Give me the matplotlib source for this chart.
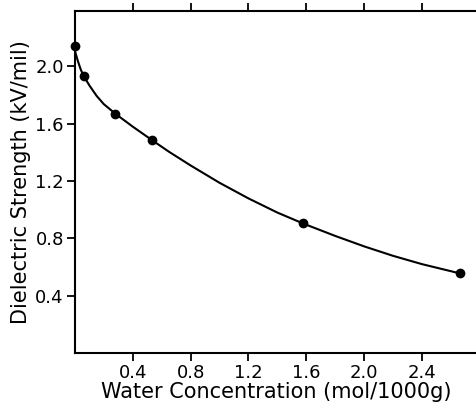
import matplotlib.pyplot as plt

# measured points
water = [0.0, 0.06, 0.28, 0.533, 1.58, 2.66]
strength = [2.145, 1.935, 1.67, 1.486, 0.905, 0.56]

# smooth curve
curve_x = [0.0, 0.02, 0.04, 0.06, 0.1, 0.15, 0.2, 0.28, 0.4, 0.533, 0.65,
           0.8, 1.0, 1.2, 1.4, 1.58, 1.8, 2.0, 2.2, 2.4, 2.66]
curve_y = [2.11, 2.04, 1.98, 1.935, 1.868, 1.795, 1.737, 1.67, 1.58, 1.486,
           1.405, 1.309, 1.188, 1.079, 0.98, 0.903, 0.817, 0.744, 0.678,
           0.62, 0.556]

xticks = [0.4, 0.8, 1.2, 1.6, 2.0, 2.4]
yticks = [0.4, 0.8, 1.2, 1.6, 2.0]

fig = plt.figure(figsize=(4.77, 4.09), dpi=100)
ax = fig.add_axes([0.157, 0.137, 0.843, 0.836])

ax.plot(curve_x, curve_y, color="black", lw=1.5)
ax.plot(water, strength, "o", color="black", ms=6, clip_on=False)

ax.set_xlim(0, 2.78)
ax.set_ylim(0, 2.387)
ax.set_xticks(xticks)
ax.set_xticklabels([str(t) for t in xticks])
ax.set_yticks(yticks)
ax.set_yticklabels([str(t) for t in yticks])

ax.spines["right"].set_visible(False)
for s in ["left", "bottom", "top"]:
    ax.spines[s].set_linewidth(1.5)
ax.tick_params(direction="out", length=6, width=1.3, labelsize=13, pad=2,
               top=True, labeltop=False)

ax.set_xlabel("Water Concentration (mol/1000g)", fontsize=15, labelpad=0)
ax.set_ylabel("Dielectric Strength (kV/mil)", fontsize=15, labelpad=3)

plt.savefig("out.png", dpi=100)
